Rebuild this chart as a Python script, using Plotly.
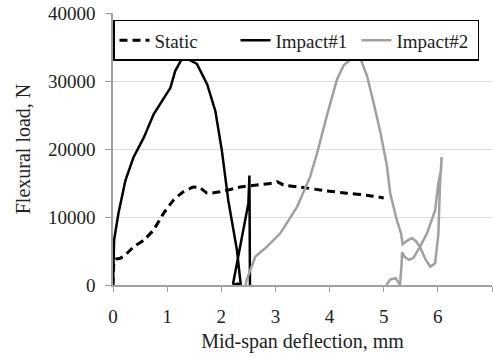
import plotly.graph_objects as go

# Static (dashed)
static_x = [0.0, 0.02, 0.05, 0.13, 0.25, 0.38, 0.57, 0.75, 0.93, 1.12, 1.30, 1.49, 1.61, 1.74, 1.98,
            2.35, 2.66, 2.97, 3.03, 3.15, 3.46, 3.89, 4.32, 4.69, 5.0]
static_y = [0, 3500, 3800, 3900, 4600, 5600, 6600, 8100, 10500, 12500, 13700, 14400, 14300, 13500, 13700,
            14400, 14700, 15000, 15200, 14700, 14400, 13900, 13500, 13200, 12800]

# Impact#1 (black solid)
imp1_x = [0, 0.005, 0.02, 0.1, 0.23, 0.38, 0.57, 0.75, 0.93, 1.06, 1.15, 1.27, 1.37, 1.55, 1.74, 1.89,
          2.01, 2.13, 2.29, 2.35, 2.36, 2.30, 2.23, 2.22, 2.34, 2.50, 2.52, 2.53, 2.53]
imp1_y = [0, 3000, 6600, 10500, 15400, 18800, 21700, 25100, 27300, 29000, 31500, 33200, 33300, 32500,
          29500, 25600, 19800, 12400, 5100, 700, 0, 200, 0, 300, 5100, 12000, 16100, 8000, 0]

# Impact#2 (gray solid)
imp2_x = [2.45, 2.47, 2.63, 2.84, 3.09, 3.40, 3.64, 3.77, 3.95, 4.14, 4.26, 4.44, 4.57, 4.69, 4.81, 4.94,
          5.06, 5.12, 5.24, 5.32, 5.35, 5.43, 5.52, 5.60, 5.67, 5.77, 5.86, 5.95, 6.01, 6.04, 6.07, 6.06,
          6.01, 5.95, 5.80, 5.67, 5.55, 5.47, 5.39, 5.34, 5.33, 5.32, 5.30, 5.22, 5.12, 5.05]
imp2_y = [0, 800, 4200, 5600, 7600, 11500, 15900, 19400, 24900, 30300, 32300, 33500, 33300, 30800, 26900,
          22400, 17500, 13500, 9600, 7600, 6000, 6500, 6900, 6400, 5600, 3800, 2700, 3200, 7600, 14900,
          18800, 17000, 15000, 11000, 7600, 5600, 4000, 3700, 4100, 4800, 3000, 1500, 0, 1000, 800, 0]

x_ticks = [0, 1, 2, 3, 4, 5, 6, 7]
y_ticks = [0, 10000, 20000, 30000, 40000]
y_ticktext = ["0", "10000", "20000", "30000", "40000"]
legend_names = ["Static", "Impact#1", "Impact#2"]

FONT = "Times New Roman"
TXT = "#222222"

fig = go.Figure()
fig.add_trace(go.Scatter(x=static_x, y=static_y, mode="lines", name=legend_names[0],
                         line=dict(color="black", width=3, dash="8px,5px", shape="spline", smoothing=0.4)))
fig.add_trace(go.Scatter(x=imp1_x, y=imp1_y, mode="lines", name=legend_names[1],
                         line=dict(color="black", width=2.5)))
fig.add_trace(go.Scatter(x=imp2_x, y=imp2_y, mode="lines", name=legend_names[2],
                         line=dict(color="#a0a0a0", width=2.5)))

fig.update_layout(
    width=493, height=358,
    margin=dict(l=113, r=1, t=13, b=73),
    paper_bgcolor="white", plot_bgcolor="white",
    font=dict(family=FONT, size=19, color=TXT),
    legend=dict(orientation="h", x=0, y=0.975, xanchor="left", yanchor="top",
                bordercolor="black", borderwidth=1.5, bgcolor="white",
                font=dict(family=FONT, size=19, color=TXT),
                entrywidth=76, entrywidthmode="pixels",
                tracegroupgap=0, itemwidth=30),
    xaxis=dict(range=[0, 7], tickvals=x_ticks, showgrid=False,
               tickfont=dict(family=FONT, size=19, color=TXT),
               showline=True, linecolor="#a0a0a0", linewidth=1.5,
               ticks="outside", ticklen=5, tickcolor="#a0a0a0", ticklabelstandoff=8,
               title=dict(text="Mid-span deflection, mm", standoff=8,
                          font=dict(family=FONT, size=20, color=TXT)), zeroline=False),
    yaxis=dict(range=[0, 40000], tickvals=y_ticks, ticktext=y_ticktext, showgrid=True,
               gridcolor="#dddddd", gridwidth=1,
               tickfont=dict(family=FONT, size=19, color=TXT),
               showline=True, linecolor="#a0a0a0", linewidth=1.5,
               ticks="outside", ticklen=6, tickcolor="#a0a0a0", ticklabelstandoff=6,
               title=dict(text="Flexural load, N", standoff=12,
                          font=dict(family=FONT, size=20, color=TXT)), zeroline=False),
)

fig.write_html("out.html")
